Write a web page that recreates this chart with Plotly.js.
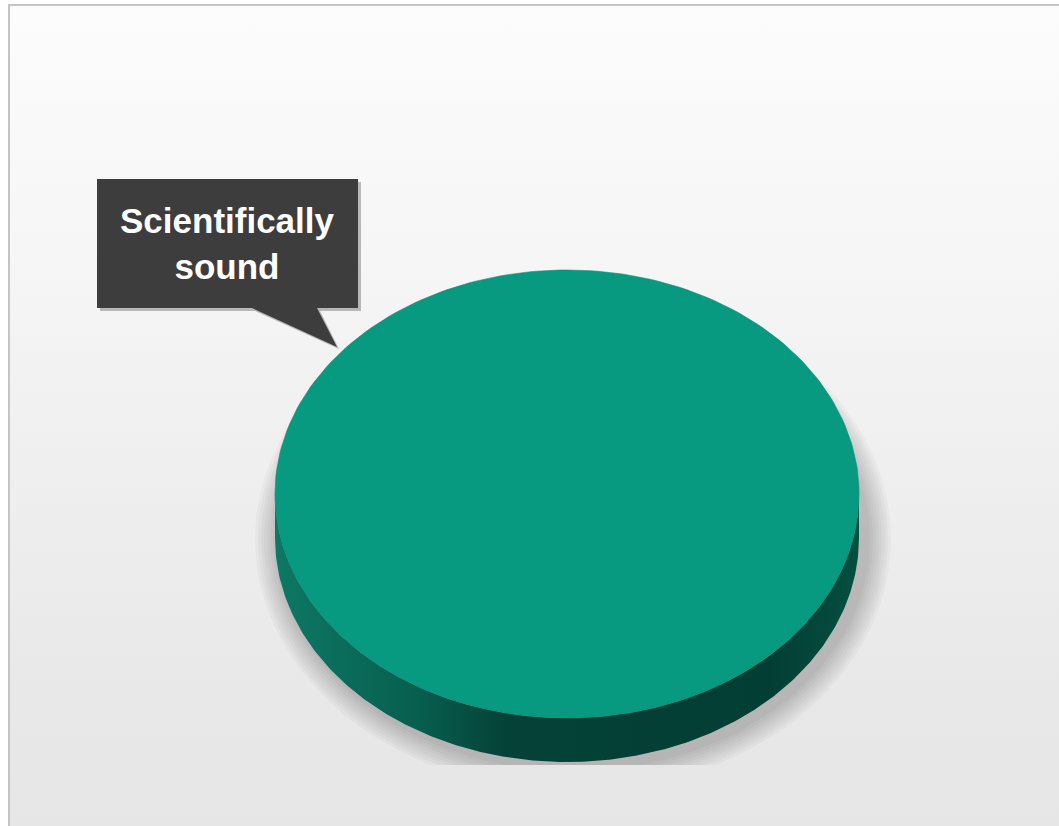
<!DOCTYPE html>
<html>
<head>
<meta charset="utf-8">
<script src="https://cdn.plot.ly/plotly-3.0.1.min.js"></script>
<style>
html, body { margin:0; padding:0; width:1059px; height:826px; overflow:hidden; background:#ffffff; }
#frame { position:absolute; left:8px; top:4px; width:1051px; height:822px;
  border-left:2px solid #c4c4c4; border-top:2px solid #c4c4c4; box-sizing:border-box;
  background: linear-gradient(to bottom, #fcfcfc 0%, #f6f6f6 30%, #eeeeee 60%, #e8e8e8 85%, #e6e6e6 100%); }
#chart { position:absolute; left:0; top:0; width:1059px; height:826px; }
</style>
</head>
<body>
<div id="frame"></div>
<div id="chart"></div>
<script>
// ---- data ----
const labels = ['Scientifically sound'];
const values = [100];
const sliceColors = ['#079a80'];

// ---- geometry / style (pixel space of the plot area) ----
const W = 1059, H = 765;
const cx = 567, cy = 494, rx = 292, ry = 224, depth = 44;
const N = 240;

const total = values.reduce((a, b) => a + b, 0);
const traces = [];
let startAng = 0; // Excel: first slice starts at 12 o'clock, clockwise

function pt(th, dy) { return [cx + rx * Math.sin(th), cy - ry * Math.cos(th) + (dy || 0)]; }

values.forEach((v, i) => {
  const frac = v / total;
  const a0 = startAng, a1 = startAng + frac * 2 * Math.PI;
  // side wall: the front half (PI/2 .. 3PI/2) intersected with the slice
  const s0 = Math.max(a0, Math.PI / 2), s1 = Math.min(a1, 3 * Math.PI / 2);
  if (s1 > s0) {
    const sx = [], sy = [];
    for (let k = 0; k <= N; k++) { const t = s0 + (s1 - s0) * k / N; const p = pt(t, 0); sx.push(p[0]); sy.push(p[1]); }
    for (let k = N; k >= 0; k--) { const t = s0 + (s1 - s0) * k / N; const p = pt(t, depth); sx.push(p[0]); sy.push(p[1]); }
    traces.push({
      type: 'scatter', mode: 'lines', x: sx, y: sy, fill: 'toself',
      line: { width: 0, color: 'rgba(0,0,0,0)' },
      fillgradient: { type: 'horizontal', colorscale: [
        [0, '#0d7864'], [0.25, '#075e4e'], [0.4, '#044136'], [0.85, '#033e34'], [1, '#044f40']] },
      hoverinfo: 'skip', showlegend: false
    });
  }
  // top face
  const tx = [], ty = [];
  if (frac < 1) { tx.push(cx); ty.push(cy); }
  for (let k = 0; k <= N; k++) { const t = a0 + (a1 - a0) * k / N; const p = pt(t, 0); tx.push(p[0]); ty.push(p[1]); }
  traces.push({
    type: 'scatter', mode: 'lines', x: tx, y: ty, fill: 'toself',
    fillcolor: sliceColors[i], line: { width: 0.6, color: '#0a8a73' },
    name: labels[i], hoverinfo: 'name', showlegend: false
  });
  startAng = a1;
});

// soft shadow under the pie
const shapes = [];
for (let k = 0; k < 8; k++) {
  const g = 3 + k * 3;
  shapes.push({ type: 'circle', xref: 'x', yref: 'y', layer: 'below',
    x0: cx - rx - g + 4, x1: cx + rx + g + 8, y0: cy - ry + 40 - g, y1: cy + ry + depth + g + 6,
    fillcolor: 'rgba(0,0,0,0.026)', line: { width: 0 } });
}

// callout for the data label
const callout = 'M97,179 L358,179 L358,308 L317,308 L337,347 L252,308 L97,308 Z';
const calloutShadow = 'M100,182 L361,182 L361,311 L320,311 L339,349 L255,311 L100,311 Z';
shapes.push({ type: 'path', xref: 'x', yref: 'y', path: calloutShadow, fillcolor: 'rgba(0,0,0,0.25)', line: { width: 0 } });
shapes.push({ type: 'path', xref: 'x', yref: 'y', path: callout, fillcolor: '#3d3d3d', line: { width: 0 } });

const annotations = [{
  xref: 'x', yref: 'y', x: 227, y: 243, showarrow: false,
  text: '<b>' + labels[0].replace(' ', '<br>') + '</b>',
  font: { family: 'Liberation Sans, Arial, sans-serif', size: 35, color: '#ffffff' },
  align: 'center'
}];

const layout = {
  width: 1059, height: 826,
  margin: { l: 0, r: 0, t: 0, b: 826 - H, pad: 0 },
  paper_bgcolor: 'rgba(0,0,0,0)', plot_bgcolor: 'rgba(0,0,0,0)',
  xaxis: { range: [0, W], visible: false, fixedrange: true },
  yaxis: { range: [H, 0], visible: false, fixedrange: true },
  shapes: shapes, annotations: annotations, showlegend: false
};

Plotly.newPlot('chart', traces, layout, { staticPlot: true, displayModeBar: false });
</script>
</body>
</html>
